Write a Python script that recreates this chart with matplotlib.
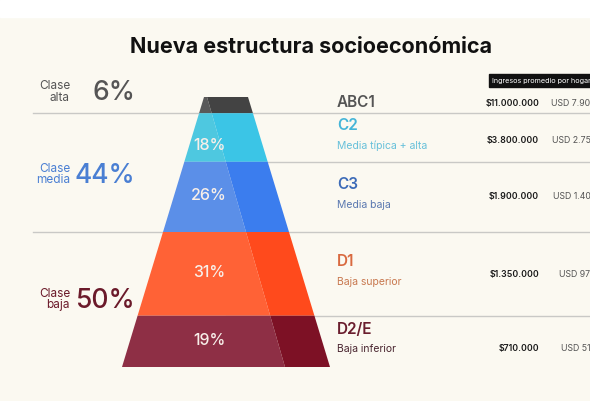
import matplotlib.pyplot as plt
from matplotlib.patches import Polygon, Rectangle

# Datos
segmentos = ["ABC1", "C2", "C3", "D1", "D2/E"]
subtitulos = ["", "Media típica + alta", "Media baja", "Baja superior", "Baja inferior"]
porcentajes = [6, 18, 26, 31, 19]
ingresos_ars = ["$11.000.000", "$3.800.000", "$1.900.000", "$1.350.000", "$710.000"]
ingresos_usd = ["USD 7.900", "USD 2.750", "USD 1.400", "USD 970", "USD 510"]
clases = ["Clase\nalta", "Clase\nmedia", "Clase\nbaja"]
clase_de_segmento = [0, 1, 1, 2, 2]

# Estilo
plt.rcParams['font.family'] = ['Inter', 'DejaVu Sans']
fondo = "#fbf9f1"
col_izq = ["#595959", "#4ec8e0", "#5b8fe8", "#ff6236", "#8e2f45"]
col_der = ["#434343", "#3bc5e6", "#3b7dee", "#ff4a1c", "#7d1125"]
col_titulo = ["#555555", "#45b5d8", "#3e6cb8", "#d96a40", "#6a1e2e"]
col_sub = ["#555555", "#66c0da", "#5a78b0", "#c8784f", "#4a2630"]
col_clase = ["#555555", "#4a7fd3", "#6b1a2a"]

# Geometria de la piramide (coordenadas en pixeles)
cx, y0, px_pct = 226, 97, 2.7
media_sup, media_inf = 22, 104
div_sup, div_inf = 207, 285

fig = plt.figure(figsize=(5.9, 4.01), dpi=100, facecolor=fondo)
ax = fig.add_axes([0, 0, 1, 1])
ax.set_xlim(0, 590)
ax.set_ylim(401, 0)
ax.axis("off")
ax.add_patch(Rectangle((0, 0), 590, 17, color="white", zorder=0))

total = sum(porcentajes)
alto = total * px_pct


def bordes(y):
    f = (y - y0) / alto
    m = media_sup + (media_inf - media_sup) * f
    return cx - m, cx + m, div_sup + (div_inf - div_sup) * f


ax.text(311, 47, "Nueva estructura socioeconómica", ha="center", va="center",
        fontsize=15.5, fontweight="bold", color="#111111")

# Encabezado de ingresos
ax.add_patch(Rectangle((489, 74), 110, 13, color="#111111", zorder=3))
ax.text(492, 80.5, "Ingresos promedio por hogar", ha="left", va="center",
        fontsize=5.2, color="white", zorder=4)

acum = 0
limites = [y0]
for i, p in enumerate(porcentajes):
    ya = y0 + acum * px_pct
    yb = y0 + (acum + p) * px_pct
    acum += p
    limites.append(yb)
    la, ra, da = bordes(ya)
    lb, rb, db = bordes(yb)
    ax.add_patch(Polygon([(la, ya), (da, ya), (db, yb), (lb, yb)],
                         closed=True, color=col_izq[i], lw=0, zorder=2))
    ax.add_patch(Polygon([(da, ya), (ra, ya), (rb, yb), (db, yb)],
                         closed=True, color=col_der[i], lw=0, zorder=2))
    yc = (ya + yb) / 2

    # lineas separadoras
    if i < len(porcentajes) - 1:
        grupo_cambia = clase_de_segmento[i] != clase_de_segmento[i + 1]
        x_ini = 33 if grupo_cambia else cx
        ax.plot([x_ini, 590], [yb, yb], color="#c9c9c6", lw=1, zorder=1)

    if i > 0:
        dy = 8 if i == 1 else -1
        ax.text(209, yc + dy, f"{p}%", ha="center", va="center",
                fontsize=11.5, fontweight="medium", color="#f8efe9", zorder=3)

    if subtitulos[i]:
        ax.text(337, yc - 12, segmentos[i], ha="left", va="center",
                fontsize=11, fontweight="semibold", color=col_titulo[i])
        ax.text(337, yc + 8, subtitulos[i], ha="left", va="center",
                fontsize=7.5, color=col_sub[i])
    else:
        ax.text(337, yc - 3, segmentos[i], ha="left", va="center",
                fontsize=11, fontweight="semibold", color=col_titulo[i])

    ajuste = [-2, 3, 0, 1, 7][i]
    ax.text(539, yc + ajuste, ingresos_ars[i], ha="right", va="center",
            fontsize=6.3, fontweight="semibold", color="#1a1a1a")
    ax.text(596, yc + ajuste, ingresos_usd[i], ha="right", va="center",
            fontsize=6.3, color="#555555")

# Etiquetas de clase
for k, nombre in enumerate(clases):
    segs = [i for i, c in enumerate(clase_de_segmento) if c == k]
    total_clase = sum(porcentajes[i] for i in segs)
    yc = (limites[segs[0]] + limites[segs[-1] + 1]) / 2
    if k == 0:
        yc -= 13
    elif k == 1:
        yc += 2
    ax.text(70, yc, nombre, ha="right", va="center", fontsize=8.5,
            color=col_clase[k], linespacing=0.95)
    ax.text(135, yc + 1, f"{total_clase}%", ha="right", va="center",
            fontsize=19, fontweight="medium", color=col_clase[k])

fig.savefig("out.png", dpi=100, facecolor=fondo)
